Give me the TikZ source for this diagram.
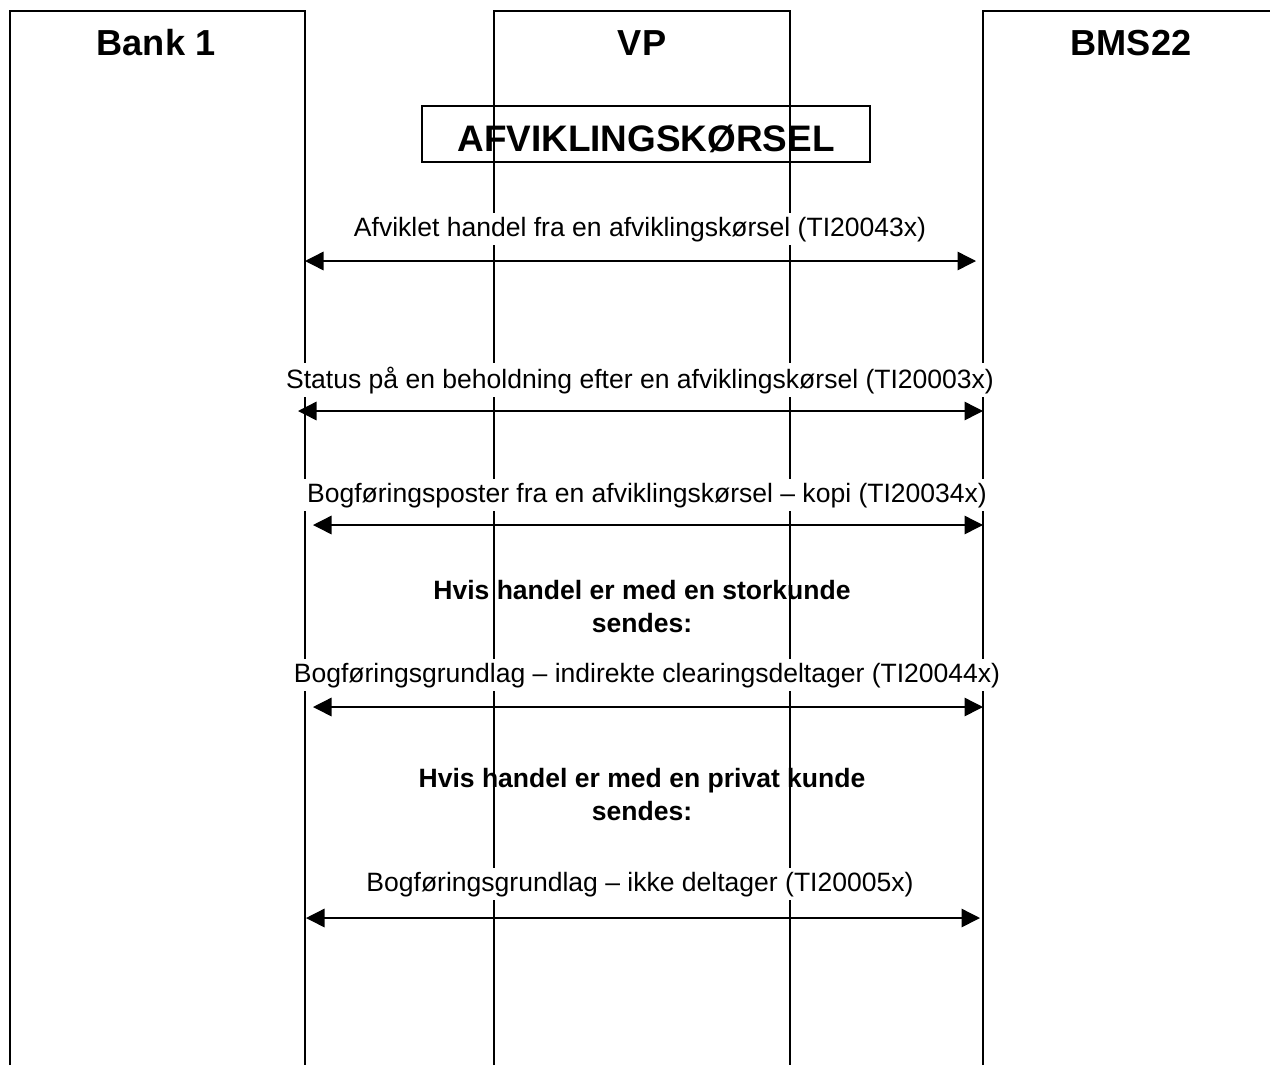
\documentclass[tikz,border=0pt]{standalone}
\usepackage{fontspec}
\setmainfont{Liberation Sans}
\usetikzlibrary{arrows.meta, positioning}
\tikzset{
  party/.style={font=\fontsize{20.6pt}{24pt}\selectfont\bfseries, anchor=base, inner sep=0pt},
  runbox/.style={draw, line width=0.8pt, font=\fontsize{21pt}{24pt}\selectfont\bfseries, anchor=base,
    text height=0.9cm, text depth=0.22cm, inner ysep=0pt, minimum width=8.96cm},
  msg/.style={font=\fontsize{15.1pt}{18pt}\selectfont, fill=white, anchor=base, inner sep=2pt},
  note/.style={font=\fontsize{15.1pt}{18.5pt}\selectfont\bfseries, align=center, anchor=base, inner sep=0pt},
  life/.style={line width=0.8pt},
  flow/.style={{Triangle[length=0.37cm,width=0.37cm]}-{Triangle[length=0.37cm,width=0.37cm]}, line width=0.8pt}
}
\begin{document}
\begin{tikzpicture}[x=0.02cm, y=-0.02cm]
\useasboundingbox (0,0) rectangle (1270,1065);
\draw[life] (10,1065) |- (305,11) -- (305,1065);
\draw[life] (494,1065) |- (790,11) -- (790,1065);
\draw[life] (983,1065) |- (1270,11);
\node[party] (bank) at (156,55) {Bank 1};
\node[party] (vp) at (642,55) {VP};
\node[party] (bms) at (1131,55) {BMS22};
\node[runbox] (run) at (646,151) {AFVIKLINGSKØRSEL};

\node[msg] (m1) at (640,236) {Afviklet handel fra en afviklingskørsel (TI20043x)};
\node[msg] (m2) at (640,388) {Status på en beholdning efter en afviklingskørsel (TI20003x)};
\node[msg] (m3) at (647,502) {Bogføringsposter fra en afviklingskørsel – kopi (TI20034x)};
\node[note] (n1) at (642,632) {Hvis handel er med en storkunde\\sendes:};
\node[msg] (m4) at (647,682) {Bogføringsgrundlag – indirekte clearingsdeltager (TI20044x)};
\node[note] (n2) at (642,820) {Hvis handel er med en privat kunde\\sendes:};
\node[msg] (m5) at (640,891) {Bogføringsgrundlag – ikke deltager (TI20005x)};

\coordinate (a1l) at (305,261);
\coordinate (a1r) at (976,261);
\coordinate (a2l) at (298,411);
\coordinate (a2r) at (983,411);
\coordinate (a3l) at (313,525);
\coordinate (a3r) at (983,525);
\coordinate (a4l) at (313,707);
\coordinate (a4r) at (983,707);
\coordinate (a5l) at (306,918);
\coordinate (a5r) at (980,918);
\draw[flow] (a1l) -- (a1r);
\draw[flow] (a2l) -- (a2r);
\draw[flow] (a3l) -- (a3r);
\draw[flow] (a4l) -- (a4r);
\draw[flow] (a5l) -- (a5r);
\end{tikzpicture}
\end{document}
